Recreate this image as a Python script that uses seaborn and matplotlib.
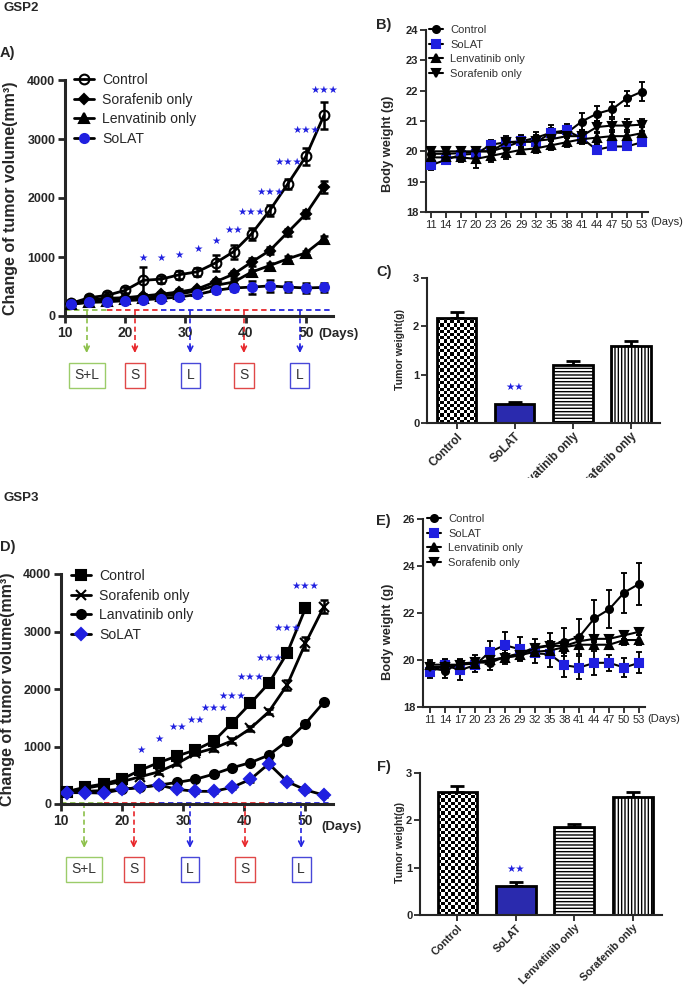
import numpy as np
import matplotlib
matplotlib.use("Agg")
import matplotlib.pyplot as plt
import seaborn as sns
from matplotlib import font_manager
from matplotlib.transforms import Bbox, TransformedBbox

# ---------------- dados ----------------
days = [11, 14, 17, 20, 23, 26, 29, 32, 35, 38, 41, 44, 47, 50, 53]

# A) GSP2 volume tumoral
a_control = [215, 310, 350, 435, 605, 625, 700, 750, 900, 1090, 1395, 1790, 2240, 2705, 3400]
a_control_err = [40, 40, 50, 50, 225, 60, 70, 70, 130, 120, 100, 90, 90, 140, 230]
a_sora = [210, 270, 300, 310, 340, 370, 410, 460, 580, 710, 915, 1110, 1420, 1730, 2185]
a_sora_err = [30, 30, 30, 30, 40, 40, 40, 40, 50, 60, 60, 60, 60, 70, 100]
a_lenva = [200, 240, 260, 280, 300, 335, 375, 425, 520, 575, 745, 855, 970, 1070, 1310]
a_lenva_err = [30, 30, 30, 30, 30, 30, 30, 30, 40, 40, 40, 40, 40, 40, 40]
a_solat = [200, 230, 240, 260, 275, 295, 325, 365, 435, 475, 490, 510, 490, 475, 485]
a_solat_err = [30, 30, 30, 30, 30, 30, 30, 30, 40, 50, 110, 100, 80, 80, 70]
a_star_day = [23, 26, 29, 32, 35, 38, 41, 44, 47, 50, 53]
a_star_n = [1, 1, 1, 1, 1, 2, 3, 3, 3, 3, 3]
a_star_y = [985, 985, 1030, 1135, 1280, 1450, 1760, 2100, 2610, 3150, 3830]

# D) GSP3 volume tumoral
d_control_days = [11, 14, 17, 20, 23, 26, 29, 32, 35, 38, 41, 44, 47, 50]
d_control = [215, 295, 350, 435, 590, 720, 835, 940, 1095, 1415, 1750, 2100, 2625, 3405]
d_control_err = [20, 20, 20, 30, 30, 30, 30, 30, 40, 40, 40, 40, 40, 50]
d_sora = [215, 275, 330, 390, 475, 560, 705, 880, 970, 1100, 1315, 1605, 2070, 2795, 3430]
d_sora_err = [20, 20, 20, 20, 30, 30, 30, 30, 40, 40, 40, 40, 80, 110, 110]
d_lanva = [210, 220, 235, 255, 290, 330, 375, 430, 520, 630, 720, 850, 1095, 1400, 1770]
d_lanva_err = [20, 20, 20, 20, 20, 20, 20, 20, 30, 30, 30, 30, 30, 40, 40]
d_solat = [197, 197, 190, 254, 290, 330, 255, 220, 220, 290, 430, 700, 390, 245, 155]
d_solat_err = [20, 20, 20, 20, 30, 30, 30, 30, 30, 30, 40, 50, 40, 30, 30]
d_star_day = [23, 26, 29, 32, 35, 38, 41, 44, 47, 50]
d_star_n = [1, 1, 2, 2, 3, 3, 3, 3, 3, 3]
d_star_y = [940, 1125, 1335, 1460, 1665, 1885, 2215, 2540, 3060, 3790]

# esquema de tratamento (linhas tracejadas, setas e caixas)
sched_start = [10, 17, 26, 35, 44]
sched_end = [17, 26, 35, 44, 54.3]
sched_color = ["#8cc04a", "#e8262a", "#2424e0", "#e8262a", "#2424e0"]
arrow_day_a = [13.6, 21.6, 30.8, 39.7, 49.0]
arrow_day_d = [13.8, 21.9, 31.1, 40.1, 49.3]
box_label = ["S+L", "S", "L", "S", "L"]
box_edge = ["#9ccc6a", "#e04848", "#4848d8", "#e04848", "#4848d8"]

# B) GSP2 peso corporal
b_control = [19.92, 19.92, 19.94, 20.0, 20.0, 20.15, 20.33, 20.45, 20.62, 20.6, 20.98, 21.24, 21.38, 21.75, 21.97]
b_control_err = [0.15, 0.15, 0.15, 0.15, 0.2, 0.2, 0.2, 0.2, 0.25, 0.3, 0.28, 0.25, 0.25, 0.25, 0.3]
b_solat = [19.54, 19.72, 19.89, 19.92, 20.22, 20.3, 20.33, 20.3, 20.62, 20.69, 20.44, 20.05, 20.16, 20.16, 20.3]
b_solat_err = [0.15, 0.15, 0.15, 0.15, 0.15, 0.15, 0.15, 0.15, 0.15, 0.15, 0.15, 0.15, 0.1, 0.1, 0.12]
b_lenva = [19.8, 19.8, 19.8, 19.75, 19.85, 19.95, 20.05, 20.1, 20.2, 20.3, 20.4, 20.45, 20.5, 20.5, 20.6]
b_lenva_err = [0.15, 0.2, 0.15, 0.3, 0.2, 0.2, 0.15, 0.15, 0.15, 0.15, 0.15, 0.2, 0.2, 0.2, 0.2]
b_sora = [20.0, 20.0, 20.0, 20.0, 20.0, 20.3, 20.3, 20.35, 20.4, 20.5, 20.5, 20.8, 20.85, 20.85, 20.88]
b_sora_err = [0.1, 0.1, 0.1, 0.1, 0.1, 0.2, 0.2, 0.2, 0.2, 0.2, 0.2, 0.2, 0.2, 0.2, 0.2]

# E) GSP3 peso corporal
e_control = [19.65, 19.55, 19.85, 19.9, 19.88, 20.13, 20.28, 20.53, 20.63, 20.78, 20.99, 21.77, 22.16, 22.87, 23.24]
e_control_err = [0.25, 0.3, 0.2, 0.3, 0.3, 0.3, 0.3, 0.35, 0.5, 0.6, 0.75, 0.8, 0.8, 0.85, 0.9]
e_solat = [19.5, 19.78, 19.57, 19.78, 20.35, 20.63, 20.46, 20.28, 20.25, 19.78, 19.68, 19.88, 19.88, 19.68, 19.88]
e_solat_err = [0.25, 0.25, 0.4, 0.3, 0.45, 0.55, 0.5, 0.4, 0.55, 0.5, 0.5, 0.5, 0.35, 0.4, 0.45]
e_lenva = [19.8, 19.8, 19.8, 19.85, 20.0, 20.1, 20.2, 20.35, 20.4, 20.55, 20.65, 20.65, 20.65, 20.85, 20.85]
e_lenva_err = [0.2] * 15
e_sora = [19.7, 19.7, 19.8, 19.9, 20.0, 20.1, 20.2, 20.5, 20.6, 20.6, 20.8, 20.9, 20.9, 21.05, 21.2]
e_sora_err = [0.15] * 15

# C) e F) peso do tumor
groups = ["Control", "SoLAT", "Lenvatinib only", "Sorafenib only"]
c_weight = [2.18, 0.40, 1.21, 1.59]
c_err = [0.12, 0.04, 0.07, 0.11]
f_weight = [2.59, 0.62, 1.85, 2.49]
f_err = [0.13, 0.08, 0.07, 0.10]
c_star_y = 0.75
f_star_y = 0.98

BLUE = "#2020e0"
BAR_BLUE = "#1414c4"

# ---------------- estilo ----------------
sns.set_style("ticks")
names = {f.name for f in font_manager.fontManager.ttflist}
NARROW = "Liberation Sans Narrow" if "Liberation Sans Narrow" in names else "Liberation Sans"
K = 1.0 if NARROW == "Liberation Sans Narrow" else 0.84
plt.rcParams["font.family"] = [NARROW, "DejaVu Sans"]
plt.rcParams["hatch.linewidth"] = 1.0
plt.rcParams["axes.linewidth"] = 1.5

W, H = 684, 990
fig = plt.figure(figsize=(W / 100, H / 100), dpi=100)


def px_axes(left, top, right, bottom):
    return fig.add_axes([left / W, 1 - bottom / H, (right - left) / W, (bottom - top) / H])


def ftext(x, y, s, **kw):
    fig.text(x / W, 1 - y / H, s, **kw)


def draw_series(ax, series, cap, lw, ms_scale=1.0):
    for label, x, y, err, mk, ms, mfc, mec in series:
        ax.errorbar(x, y, yerr=err, fmt="none", ecolor="black", elinewidth=lw * 0.9,
                    capsize=cap, capthick=lw * 0.9, zorder=2)
        sns.lineplot(x=x, y=y, ax=ax, color="black", linewidth=lw, marker=mk,
                     markersize=ms * ms_scale, markerfacecolor=mfc, markeredgecolor=mec,
                     markeredgewidth=1.5, label=label, zorder=3)


def stars(ax, xs, ys, ns, size):
    for x, y, n in zip(xs, ys, ns):
        ax.text(x, y, "\u2605" * n, ha="center", va="center", color=BLUE,
                fontsize=size, family="DejaVu Sans", zorder=5)


def schedule(ax, arrow_days, y_line, y_arrow, y_box):
    tr = ax.get_xaxis_transform()
    ytop = ax.get_ylim()[1]
    for s, e, c in zip(sched_start, sched_end, sched_color):
        ax.plot([s, e], [y_line, y_line], ls=(0, (3, 2)), color=c, lw=1.3, clip_on=False, zorder=1)
    for x, lab, c, ec in zip(arrow_days, box_label, sched_color, box_edge):
        ax.plot([x, x], [y_line / ytop, y_arrow + 0.02], transform=tr, ls=(0, (3, 2)),
                color=c, lw=1.2, clip_on=False)
        ax.annotate("", xy=(x, y_arrow), xytext=(x, y_arrow + 0.03), xycoords=tr, textcoords=tr,
                    arrowprops=dict(arrowstyle="->", color=c, lw=1.2, shrinkA=0, shrinkB=0,
                                    mutation_scale=9))
        ax.text(x, y_box, lab, transform=tr, ha="center", va="center", fontsize=10,
                color="#333333", family="Liberation Sans", clip_on=False,
                bbox=dict(boxstyle="square,pad=0.4", fc="white", ec=ec, lw=1.0))


def volume_panel(ax, series, star_x, star_y, star_n, arrow_days, y_line, y_arrow, y_box, legend_xy):
    draw_series(ax, series, cap=3, lw=2.0)
    ax.set_xlim(10, 54.5)
    ax.set_ylim(0, 4000)
    ax.set_xticks([10, 20, 30, 40, 50])
    ax.set_yticks([0, 1000, 2000, 3000, 4000])
    sns.despine(ax=ax)
    for sp in ("left", "bottom"):
        ax.spines[sp].set_linewidth(2.2)
    ax.tick_params(axis="y", length=5, width=2, labelsize=9, pad=2)
    ax.tick_params(axis="x", length=5, width=2, labelsize=10, pad=2)
    for t in ax.get_xticklabels() + ax.get_yticklabels():
        t.set_fontweight("bold")
    ax.set_xlabel("")
    ax.set_ylabel("Change of tumor volume(mm\u00b3)", fontsize=11.5, fontweight="bold",
                  family="Liberation Sans")
    stars(ax, star_x, star_y, star_n, 7.5)
    schedule(ax, arrow_days, y_line, y_arrow, y_box)
    ax.legend(loc="upper left", bbox_to_anchor=(legend_xy[0] / W, 1 - legend_xy[1] / H),
              bbox_transform=fig.transFigure, frameon=False, fontsize=12 * K,
              handlelength=1.4, handletextpad=0.6, labelspacing=0.4, borderpad=0,
              borderaxespad=0)


def weight_panel(ax, series, ylim, yticks, legend_xy, xleft):
    draw_series(ax, series, cap=2.5, lw=1.5, ms_scale=1.0)
    ax.set_xlim(xleft, 54.2)
    ax.set_ylim(*ylim)
    ax.set_xticks(days)
    ax.set_yticks(yticks)
    sns.despine(ax=ax)
    ax.tick_params(length=4, width=1.3, labelsize=8, pad=1.5)
    for t in ax.get_yticklabels():
        t.set_fontweight("bold")
    ax.set_xlabel("")
    ax.set_ylabel("Body weight (g)", fontsize=11 * K, fontweight="bold")
    leg = ax.legend(loc="upper left", bbox_to_anchor=(legend_xy[0] / W, 1 - legend_xy[1] / H),
                    bbox_transform=fig.transFigure, frameon=False, fontsize=9.5 * K,
                    handlelength=1.3, handletextpad=0.6, labelspacing=0.42, borderpad=0,
                    borderaxespad=0)
    for t in leg.get_texts():
        t.set_color("#333333")


def bar_panel(ax, values, errs, star_y, xleft, label_size, clip_y=None):
    sns.barplot(x=groups, y=values, hue=groups, palette=["white", BAR_BLUE, "white", "white"],
                ax=ax, width=0.68, edgecolor="black", linewidth=2, legend=False, zorder=2)
    ax.errorbar(range(len(values)), values, yerr=[[0] * len(errs), errs], fmt="none",
                ecolor="black", elinewidth=2, capsize=5, capthick=2, zorder=1)
    ax.set_xlim(xleft, 3.5)
    ax.set_ylim(0, 3)
    ax.set_yticks([0, 1, 2, 3])
    sns.despine(ax=ax)
    ax.tick_params(length=4, width=1.3, labelsize=8, pad=1.5)
    ax.set_ylabel("Tumor weight(g)", fontsize=9 * K, fontweight="bold")
    ax.set_xlabel("")
    for t in ax.get_yticklabels():
        t.set_fontweight("bold")
    for t in ax.get_xticklabels():
        t.set_rotation(45)
        t.set_ha("right")
        t.set_rotation_mode("anchor")
        t.set_fontweight("bold")
        t.set_fontsize(label_size)
        if clip_y is not None:
            t.set_clip_on(True)
            t.set_clip_box(TransformedBbox(Bbox([[0, 1 - clip_y / H], [1, 1]]), fig.transFigure))
    patches = ax.patches[:4]
    patches[2].set_hatch("-----")
    patches[3].set_hatch("|||||")
    # tabuleiro para o controle
    p = patches[0]
    x0, w, h = p.get_x(), p.get_width(), p.get_height()
    (dx0, dy0), (dx1, dy1) = ax.transData.transform([(x0, 0), (x0 + w, h)])
    nc, nr = max(int(round((dx1 - dx0) / 3.2)), 2), max(int(round((dy1 - dy0) / 3.2)), 2)
    checker = np.add.outer(np.arange(nr), np.arange(nc)) % 2
    im = ax.imshow(checker, extent=[x0, x0 + w, 0, h], cmap="Greys", vmin=0, vmax=1,
                   interpolation="nearest", aspect="auto", zorder=1.5)
    im.set_clip_path(p)
    p.set_facecolor("none")
    ax.set_xlim(xleft, 3.5)
    ax.set_ylim(0, 3)
    ax.text(1, star_y, "\u2605\u2605", ha="center", va="center", color=BLUE, fontsize=7.5,
            family="DejaVu Sans")


# ---------------- painéis ----------------
axA = px_axes(65, 80, 333, 316)
volume_panel(
    axA,
    [("Control", days, a_control, a_control_err, "o", 7, "none", "black"),
     ("Sorafenib only", days, a_sora, a_sora_err, "D", 5.5, "black", "black"),
     ("Lenvatinib only", days, a_lenva, a_lenva_err, "^", 6.5, "black", "black"),
     ("SoLAT", days, a_solat, a_solat_err, "o", 6.5, BLUE, BLUE)],
    a_star_day, a_star_y, a_star_n, arrow_day_a, 110, -0.157, -0.252, (74, 73))
axA.yaxis.set_label_coords(-0.175, 0.5)

axD = px_axes(61, 574, 333, 804)
volume_panel(
    axD,
    [("Control", d_control_days, d_control, d_control_err, "s", 6.5, "black", "black"),
     ("Sorafenib only", days, d_sora, d_sora_err, "x", 6.5, "black", "black"),
     ("Lanvatinib only", days, d_lanva, d_lanva_err, "o", 6.5, "black", "black"),
     ("SoLAT", days, d_solat, d_solat_err, "D", 6.5, BLUE, BLUE)],
    d_star_day, d_star_y, d_star_n, arrow_day_d, 25, -0.191, -0.283, (71, 569))
axD.yaxis.set_label_coords(-0.169, 0.5)

axB = px_axes(426, 30, 648, 212)
weight_panel(
    axB,
    [("Control", days, b_control, b_control_err, "o", 5, "black", "black"),
     ("SoLAT", days, b_solat, b_solat_err, "s", 5.5, BLUE, BLUE),
     ("Lenvatinib only", days, b_lenva, b_lenva_err, "^", 5.5, "black", "black"),
     ("Sorafenib only", days, b_sora, b_sora_err, "v", 5.5, "black", "black")],
    (18, 24), [18, 19, 20, 21, 22, 23, 24], (429, 25), 10.07)
axB.yaxis.set_label_coords(-0.144, 0.376)

axE = px_axes(423, 519, 645, 707)
weight_panel(
    axE,
    [("Control", days, e_control, e_control_err, "o", 5, "black", "black"),
     ("SoLAT", days, e_solat, e_solat_err, "s", 5.5, BLUE, BLUE),
     ("Lenvatinib only", days, e_lenva, e_lenva_err, "^", 5.5, "black", "black"),
     ("Sorafenib only", days, e_sora, e_sora_err, "v", 5.5, "black", "black")],
    (18, 26), [18, 20, 22, 24, 26], (427, 514), 9.55)
axE.yaxis.set_label_coords(-0.129, 0.401)

axC = px_axes(427, 278, 660, 423)
bar_panel(axC, c_weight, c_err, c_star_y, -0.51, 8.5, clip_y=478)
axC.yaxis.set_label_coords(-0.096, 0.51)

axF = px_axes(420, 773, 662, 915)
bar_panel(axF, f_weight, f_err, f_star_y, -0.64, 7.8)
axF.yaxis.set_label_coords(-0.062, 0.513)

# ---------------- textos ----------------
bold = dict(fontweight="bold", family="Liberation Sans", va="center", ha="left")
ftext(3, 8, "GSP2", fontsize=9.5, **bold)
ftext(3, 498, "GSP3", fontsize=9.5, **bold)
ftext(0, 53, "A)", fontsize=10.5, **bold)
ftext(0, 547, "D)", fontsize=10.5, **bold)
ftext(376, 25, "B)", fontsize=10.5, **bold)
ftext(376, 272, "C)", fontsize=10.5, **bold)
ftext(376, 521, "E)", fontsize=10.5, **bold)
ftext(377, 767, "F)", fontsize=10.5, **bold)
ftext(318, 334, "(Days)", fontsize=9.5, fontweight="bold", va="center", ha="left")
ftext(321, 827, "(Days)", fontsize=9.5, fontweight="bold", va="center", ha="left")
ftext(650, 222, "(Days)", fontsize=8, va="center", ha="left")
ftext(647, 719, "(Days)", fontsize=8, va="center", ha="left")

fig.savefig("out.png", dpi=100)
